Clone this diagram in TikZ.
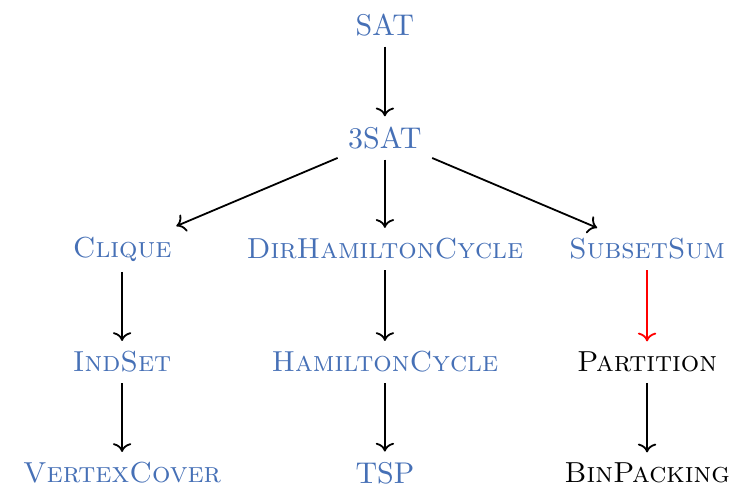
\documentclass[tikz,border=0pt]{standalone}
\usetikzlibrary{arrows.meta}
\definecolor{probblue}{RGB}{70,112,182}
\newcommand{\probsc}[1]{{\fontsize{9.65pt}{12pt}\selectfont\textsc{#1}}}
\begin{document}
\begin{tikzpicture}[x=1pt,y=1pt,
  prob/.style={text=probblue},
  plain/.style={text=black},
  edge/.style={->,semithick},
  rededge/.style={->,semithick,draw=red}]
\useasboundingbox (0,0) rectangle (246.67,-162);
\node[prob] (sat) at (128.3,-8.3) {SAT};
\node[prob] (tsat) at (128.3,-46) {3SAT};
\node[prob] (clique) at (40.7,-83) {\probsc{Clique}};
\node[prob] (dhc) at (128.3,-83) {\probsc{DirHamiltonCycle}};
\node[prob] (ss) at (215.7,-83) {\probsc{SubsetSum}};
\node[prob] (is) at (40.7,-120.7) {\probsc{IndSet}};
\node[prob] (hc) at (128.3,-120.7) {\probsc{HamiltonCycle}};
\node[plain] (part) at (215.7,-120.7) {\probsc{Partition}};
\node[prob] (vc) at (40.7,-157.7) {\probsc{VertexCover}};
\node[prob] (tsp) at (128.3,-157.7) {TSP};
\node[plain] (bp) at (215.7,-157.7) {\probsc{BinPacking}};
\draw[edge] (sat) -- (tsat);
\draw[edge] (tsat) -- (clique);
\draw[edge] (tsat) -- (dhc);
\draw[edge] (tsat) -- (ss);
\draw[edge] (clique) -- (is);
\draw[edge] (is) -- (vc);
\draw[edge] (dhc) -- (hc);
\draw[edge] (hc) -- (tsp);
\draw[rededge] (ss) -- (part);
\draw[edge] (part) -- (bp);
\end{tikzpicture}
\end{document}
